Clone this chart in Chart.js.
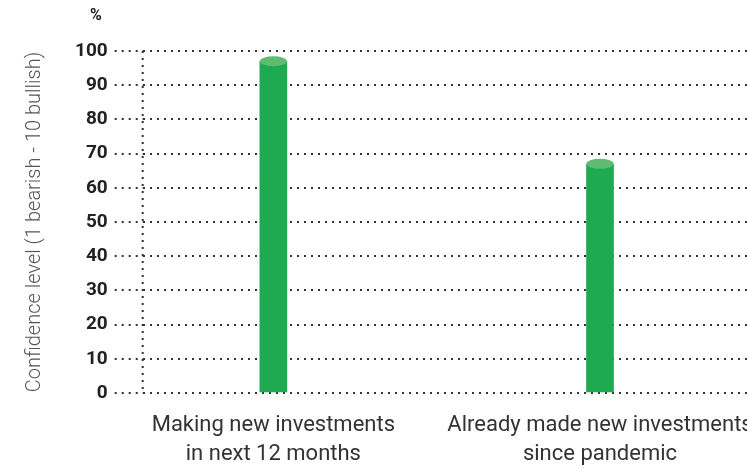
<!DOCTYPE html>
<html>
<head>
<meta charset="utf-8">
<script src="https://cdn.jsdelivr.net/npm/chart.js@4"></script>
<style>
  html, body { margin: 0; padding: 0; background: #fff; }
  #wrap { width: 747px; height: 468px; }
</style>
</head>
<body>
<div id="wrap"><canvas id="barChart"></canvas></div>
<script>
/* Data */
const categories = [
  ['Making new investments', 'in next 12 months'],
  ['Already made new investments', 'since pandemic'],
];
const values = [97, 67];
const yTicks = [0, 10, 20, 30, 40, 50, 60, 70, 80, 90, 100];

const barColor = '#1eaa50';
const capColor = '#5dbb72';
const dotColor = '#333';

// draws the lighter ellipse on top of each bar (cylinder look)
const cylinderCaps = {
  id: 'cylinderCaps',
  afterDatasetsDraw(chart) {
    const ctx = chart.ctx;
    chart.getDatasetMeta(0).data.forEach((bar) => {
      ctx.save();
      ctx.fillStyle = capColor;
      ctx.beginPath();
      ctx.ellipse(bar.x, bar.y, bar.width / 2, 5, 0, 0, Math.PI * 2);
      ctx.fill();
      ctx.restore();
    });
  },
};

// dotted y axis line + "%" unit label
const axisExtras = {
  id: 'axisExtras',
  beforeDatasetsDraw(chart) {
    const ctx = chart.ctx;
    const a = chart.chartArea;
    ctx.save();
    ctx.strokeStyle = dotColor;
    ctx.lineWidth = 2;
    ctx.setLineDash([2, 5]);
    ctx.beginPath();
    ctx.moveTo(a.left, a.top);
    ctx.lineTo(a.left, a.bottom);
    ctx.stroke();
    ctx.restore();
  },
  afterDraw(chart) {
    const ctx = chart.ctx;
    const y = chart.scales.y;
    ctx.save();
    ctx.font = 'bold 16px Roboto';
    ctx.fillStyle = '#222';
    ctx.textAlign = 'center';
    ctx.textBaseline = 'middle';
    ctx.fillText('%', 96, y.top - 35);
    ctx.restore();
  },
};

function barChart() {
  let ctx = document.getElementById('barChart').getContext('2d');
  new Chart(ctx, {
    type: 'bar',
    data: {
      datasets: [
        {
          data: values.map((v, i) => ({ x: i, y: v })),
          backgroundColor: barColor,
          barThickness: 27,
        },
      ],
    },
    options: {
      responsive: true,
      maintainAspectRatio: false,
      animation: false,
      layout: { padding: { top: 51, right: 0, left: 23, bottom: 0 } },
      plugins: {
        legend: { display: false },
        tooltip: { enabled: false },
      },
      scales: {
        x: {
          type: 'linear',
          offset: false,
          min: -0.4,
          max: 1.45,
          afterBuildTicks: (scale) => {
            scale.ticks = categories.map((c, i) => ({ value: i }));
          },
          afterFit: (scale) => {
            // let the long labels run off the edge like the original
            scale.paddingLeft = 0;
            scale.paddingRight = 0;
            scale.height = 75;
          },
          grid: { display: false, drawTicks: false },
          border: { display: false },
          ticks: {
            autoSkip: false,
            maxRotation: 0,
            padding: 18,
            color: '#333',
            font: { family: 'Roboto', size: 22, lineHeight: 1.32 },
            callback: (v) => categories[v],
          },
        },
        y: {
          min: 0,
          max: 100,
          afterBuildTicks: (scale) => {
            scale.ticks = yTicks.map((v) => ({ value: v }));
          },
          grid: {
            color: dotColor,
            lineWidth: 2,
            tickLength: 28,
            tickBorderDash: [2, 5],
            tickWidth: 2,
          },
          border: {
            display: false,
            dash: [2, 5],
          },
          ticks: {
            padding: 7,
            color: '#222',
            font: { family: 'Roboto', size: 19, weight: 'bold' },
          },
          title: {
            display: true,
            text: 'Confidence level (1 bearish - 10 bullish)',
            color: '#555',
            font: { family: 'Roboto', size: 20, weight: 300 },
            padding: { top: 0, bottom: 21 },
          },
        },
      },
    },
    plugins: [cylinderCaps, axisExtras],
  });
}

barChart();
</script>
</body>
</html>
